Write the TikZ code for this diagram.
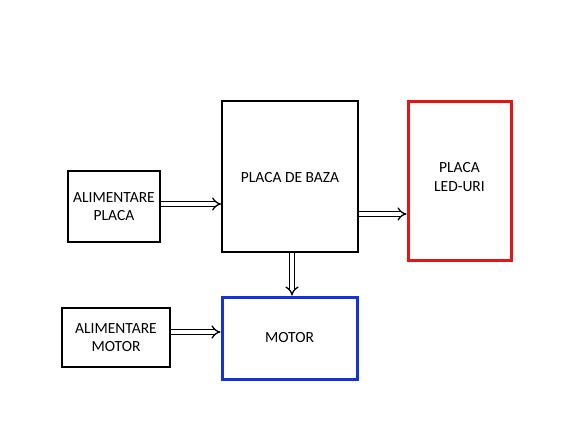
\documentclass[tikz,border=0pt]{standalone}
\usepackage{fontspec}
\setmainfont{Carlito}
\usetikzlibrary{arrows.meta}
\definecolor{ledred}{RGB}{230,20,20}
\definecolor{motblue}{RGB}{20,50,220}
\begin{document}
\begin{tikzpicture}[x=1pt,y=-1pt,
  blk/.style={draw=black,line width=1.8pt,fill=white,inner sep=0pt,font=\fontsize{15.5}{18.5}\selectfont,align=center},
  dbl/.style={double,double distance=3.2pt,line width=1.3pt,-{Implies}},
]
\useasboundingbox[fill=white] (0,0) rectangle (587,442);
\node[blk,minimum width=92pt,minimum height=71pt] (ap) at (114,206.5) {ALIMENTARE\\PLACA};
\node[blk,minimum width=136pt,minimum height=151pt] (pb) at (290,176.5) {};
\node[font=\fontsize{15.5}{18.5}\selectfont] (pbt) at (290,178) {PLACA DE BAZA};
\node[blk,draw=ledred,line width=3pt,minimum width=103pt,minimum height=159pt] (led) at (459.5,180.5) {};
\node[font=\fontsize{15.5}{18.5}\selectfont,align=center] (ledt) at (459.5,177) {PLACA\\LED-URI};
\node[blk,minimum width=108pt,minimum height=59pt] (am) at (116,337.5) {ALIMENTARE\\MOTOR};
\node[blk,draw=motblue,line width=3pt,minimum width=135pt,minimum height=82pt] (mo) at (289.5,338) {MOTOR};
\draw[dbl] (ap.east |- 0,204) -- (pb.west |- 0,204);
\draw[dbl] (pb.east |- 0,214) -- (led.west |- 0,214);
\draw[dbl] (pb.south -| 292,0) -- (mo.north -| 292,0);
\draw[dbl] (am.east |- 0,332) -- (mo.west |- 0,332);
\end{tikzpicture}
\end{document}
